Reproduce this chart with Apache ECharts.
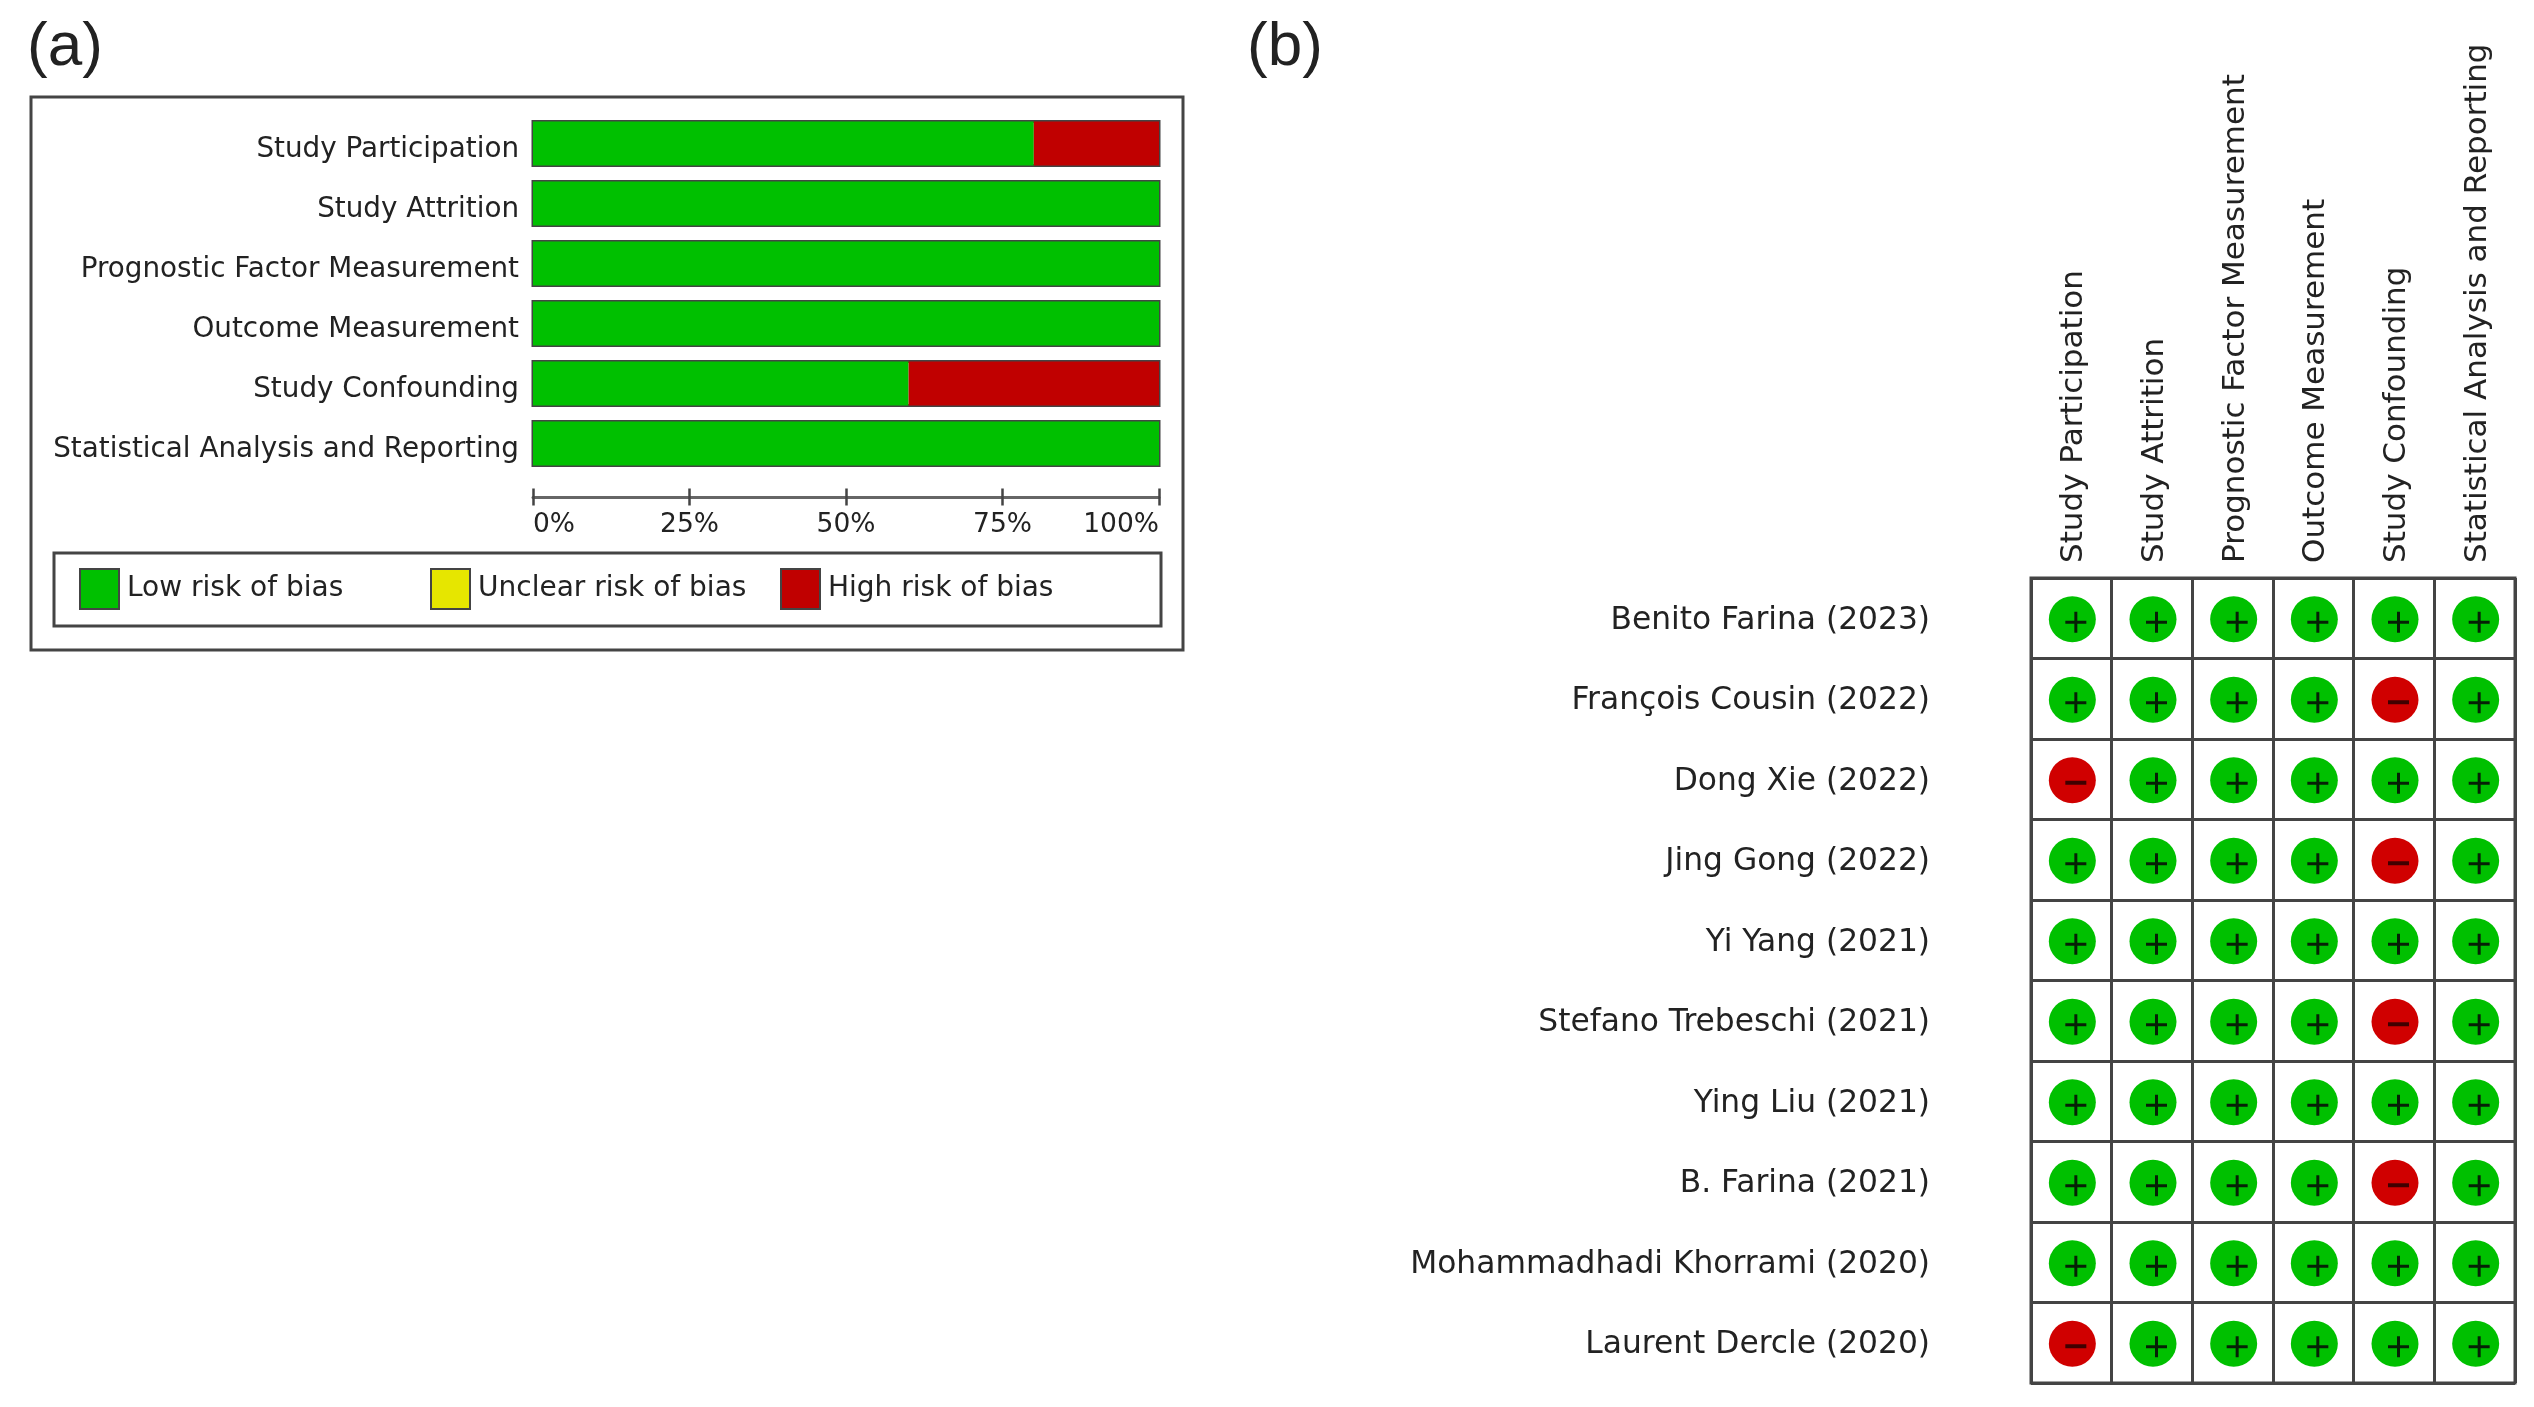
<!DOCTYPE html>
<html>
<head>
<meta charset="utf-8">
<style>html,body{margin:0;padding:0;background:#fff}#c{width:2534px;height:1407px}</style>
<script src="https://cdn.jsdelivr.net/npm/echarts@6/dist/echarts.min.js"></script>
</head>
<body>
<div id="c"></div>
<script>
const domains = ['Study Participation','Study Attrition','Prognostic Factor Measurement','Outcome Measurement','Study Confounding','Statistical Analysis and Reporting'];
const lowRisk = [80,100,100,100,60,100];
const unclearRisk = [0,0,0,0,0,0];
const highRisk = [20,0,0,0,40,0];
const percentTicks = [0,25,50,75,100];
const studies = ['Benito Farina (2023)','François Cousin (2022)','Dong Xie (2022)','Jing Gong (2022)','Yi Yang (2021)','Stefano Trebeschi (2021)','Ying Liu (2021)','B. Farina (2021)','Mohammadhadi Khorrami (2020)','Laurent Dercle (2020)'];
const judgements = ['++++++','++++-+','-+++++','++++-+','++++++','++++-+','++++++','++++-+','++++++','-+++++'];

const FONT = 'DejaVu Sans';
const TXT = '#222';
const LINE = '#444';
const GREEN = '#00c000', RED = '#c00000', YELLOW = '#e6e600';
const DOT_GREEN = '#00c000', DOT_RED = '#d00000';
const PLUS = 'path://M9,0H12V9H21V12H12V21H9V12H0V9H9Z';

const lowCells = [], highCells = [];
judgements.forEach((row, r) => row.split('').forEach((j, c) => {
  (j === '+' ? lowCells : highCells).push([domains[c], studies[r]]);
}));

const chart = echarts.init(document.getElementById('c'), null, {renderer:'canvas'});
const barSeries = (name, data, color, extra) => Object.assign({
  name, type:'bar', stack:'risk', data, barWidth:44, xAxisIndex:0, yAxisIndex:0,
  itemStyle:{color}, silent:true, animation:false
}, extra || {});
const legendAt = (name, left) => ({
  data:[name], left, top:568, padding:0, itemWidth:39, itemHeight:40,
  icon:'rect', selectedMode:false,
  itemStyle:{borderColor:LINE, borderWidth:2},
  textStyle:{fontFamily:FONT, fontSize:28, color:TXT, padding:[3,0,0,3]}
});
const dotStyle = color => ({color, opacity:1});
const nudged = (fontSize, down) => ({
  fontFamily:FONT, fontSize, color:TXT, formatter:v => '{t|' + v + '}',
  rich:{t:{fontFamily:FONT, fontSize, color:TXT, padding:[down,0,0,0]}}
});

chart.setOption({
  backgroundColor:'#fff',
  animation:false,
  title:[
    {text:'(a)', left:27, top:17, padding:0, textStyle:{fontFamily:'Liberation Sans', fontSize:62, fontWeight:'normal', color:'#222'}},
    {text:'(b)', left:1247, top:17, padding:0, textStyle:{fontFamily:'Liberation Sans', fontSize:62, fontWeight:'normal', color:'#222'}}
  ],
  graphic:[
    {type:'rect', silent:true, z:-1, shape:{x:31,y:97,width:1152,height:553}, style:{fill:'#fff', stroke:LINE, lineWidth:3}},
    {type:'rect', silent:true, z:-1, shape:{x:54,y:553,width:1107,height:73}, style:{fill:'#fff', stroke:LINE, lineWidth:3}}
  ],
  legend:[legendAt('Low risk of bias',79), legendAt('Unclear risk of bias',430), legendAt('High risk of bias',780)],
  grid:[
    {left:533, top:113.5, width:626, height:360, containLabel:false},
    {left:2031, top:578, width:484, height:805, containLabel:false, show:true, borderColor:LINE, borderWidth:3, backgroundColor:'transparent'}
  ],
  xAxis:[
    {type:'value', gridIndex:0, min:percentTicks[0], max:percentTicks[4], interval:25, position:'bottom', offset:15,
      axisLine:{show:false}, axisTick:{show:true, length:17, lineStyle:{color:LINE, width:2.5}},
      splitLine:{show:false},
      axisLabel:{margin:23, fontFamily:FONT, fontSize:26.5, color:TXT, formatter:'{value}%', alignMinLabel:'left', alignMaxLabel:'right'}},
    {type:'value', gridIndex:0, min:percentTicks[0], max:percentTicks[4], interval:25, position:'bottom', offset:24,
      axisLine:{show:true, lineStyle:{color:'#666', width:3}}, axisTick:{show:false}, axisLabel:{show:false}, splitLine:{show:false}},
    {type:'category', gridIndex:1, data:domains, position:'top',
      axisLine:{show:false}, axisTick:{show:false},
      splitLine:{show:true, interval:0, lineStyle:{color:LINE, width:3}},
      axisLabel:Object.assign({interval:0, rotate:-90, margin:15}, nudged(31, 6))}
  ],
  yAxis:[
    {type:'category', gridIndex:0, data:domains, inverse:true,
      axisLine:{show:false}, axisTick:{show:false}, splitLine:{show:false},
      axisLabel:Object.assign({interval:0, margin:14}, nudged(27.8, 12))},
    {type:'category', gridIndex:1, data:studies, inverse:true,
      axisLine:{show:false}, axisTick:{show:false},
      splitLine:{show:true, interval:0, lineStyle:{color:LINE, width:3}},
      axisLabel:Object.assign({interval:0, margin:101}, nudged(31.3, 5))}
  ],
  series:[
    barSeries('Low risk of bias', lowRisk, GREEN, {showBackground:true, backgroundStyle:{color:'rgba(0,0,0,0)', borderColor:LINE, borderWidth:3}}),
    barSeries('Unclear risk of bias', unclearRisk, YELLOW),
    barSeries('High risk of bias', highRisk, RED),
    {type:'scatter', xAxisIndex:2, yAxisIndex:1, data:lowCells, symbol:'circle', symbolSize:[47,46], symbolOffset:[1,1], itemStyle:dotStyle(DOT_GREEN), silent:true, z:3},
    {type:'scatter', xAxisIndex:2, yAxisIndex:1, data:highCells, symbol:'circle', symbolSize:[47,46], symbolOffset:[1,1], itemStyle:dotStyle(DOT_RED), silent:true, z:3},
    {type:'scatter', xAxisIndex:2, yAxisIndex:1, data:lowCells, symbol:PLUS, symbolSize:21, symbolOffset:[4.5,4], itemStyle:dotStyle('#062006'), silent:true, z:4},
    {type:'scatter', xAxisIndex:2, yAxisIndex:1, data:highCells, symbol:'rect', symbolSize:[21,4], symbolOffset:[4.5,3.5], itemStyle:dotStyle('#400000'), silent:true, z:4}
  ]
});
</script>
</body>
</html>
